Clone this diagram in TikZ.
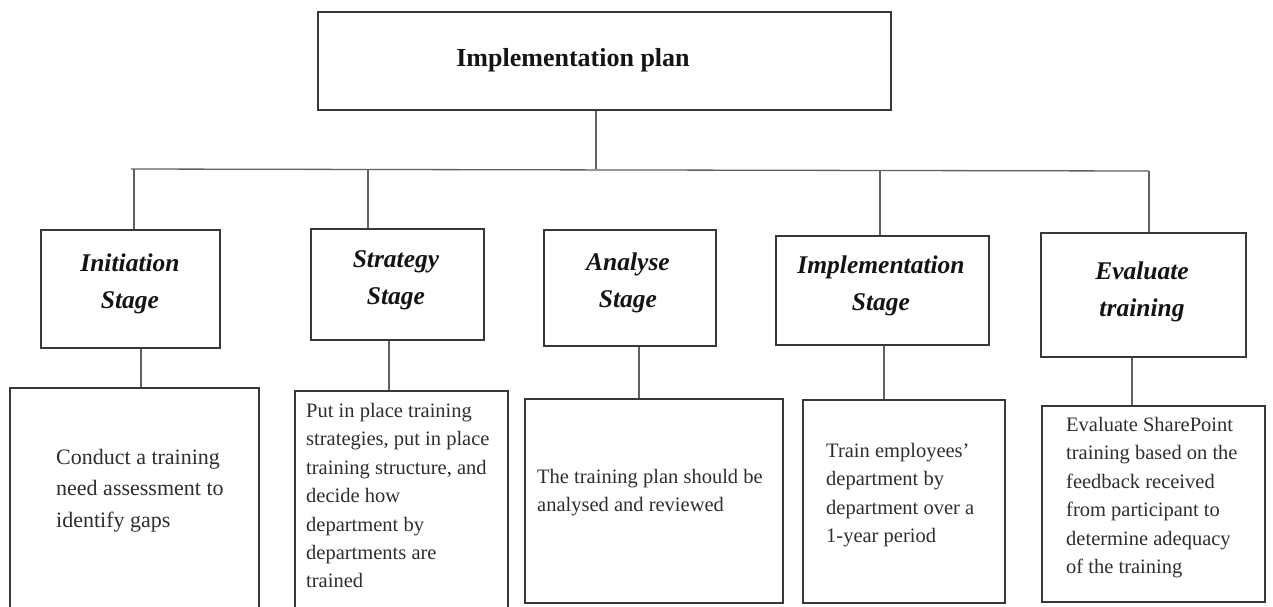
\documentclass[tikz,border=0pt]{standalone}
\usepackage{fontspec}
\setmainfont{Liberation Serif}
\begin{document}
\begin{tikzpicture}[x=1pt,y=-1pt,
  box/.style={draw=black!78,line width=1.3pt,rectangle,inner sep=0pt,fill=none},
  link/.style={draw=black!62,line width=1.3pt},
  headtext/.style={inner sep=0pt,font=\fontsize{26}{30}\selectfont\bfseries,text=black!92},
  stagetext/.style={inner sep=0pt,anchor=north,align=center,text=black!92,
    font=\fontsize{25.5}{37}\selectfont\bfseries\itshape},
  bodytext/.style={inner sep=0pt,anchor=north west,align=left,text=black!82,
    font=\fontsize{20.5}{28.4}\selectfont},
  bigbodytext/.style={bodytext,font=\fontsize{22}{31.5}\selectfont}]
\clip (0,0) rectangle (1273,606);
\fill[white] (0,0) rectangle (1273,606);

% root
\node[box,minimum width=573pt,minimum height=98pt] (top) at (604.5,61) {};
\node[headtext,anchor=base] (toptxt) at (573,66) {Implementation plan};

% stage boxes
\node[box,minimum width=179pt,minimum height=118pt] (s1) at (130.5,289) {};
\node[box,minimum width=173pt,minimum height=111pt] (s2) at (397.5,284.5) {};
\node[box,minimum width=172pt,minimum height=116pt] (s3) at (630,288) {};
\node[box,minimum width=213pt,minimum height=109pt] (s4) at (882.5,290.5) {};
\node[box,minimum width=205pt,minimum height=124pt] (s5) at (1143.5,295) {};

\node[stagetext] (s1txt) at (130,254) {Initiation\\Stage};
\node[stagetext] (s2txt) at (396,250) {Strategy\\Stage};
\node[stagetext] (s3txt) at (628,253) {Analyse\\Stage};
\node[stagetext] (s4txt) at (881,256) {Implementation\\Stage};
\node[stagetext] (s5txt) at (1142,262) {Evaluate\\training};

% task boxes
\node[box,minimum width=249pt,minimum height=232pt] (t1) at (134.5,504) {};
\node[box,minimum width=213pt,minimum height=229pt] (t2) at (401.5,505.5) {};
\node[box,minimum width=258pt,minimum height=204pt] (t3) at (654,501) {};
\node[box,minimum width=202pt,minimum height=203pt] (t4) at (904,501.5) {};
\node[box,minimum width=223pt,minimum height=196pt] (t5) at (1153.5,504) {};

\node[bigbodytext] (t1txt) at (56,449) {Conduct a training\\need assessment to\\identify gaps};
\node[bodytext] (t2txt) at (306,403) {Put in place training\\strategies, put in place\\training structure, and\\decide how\\department by\\departments are\\trained};
\node[bodytext] (t3txt) at (537,469) {The training plan should be\\analysed and reviewed};
\node[bodytext] (t4txt) at (826,443) {Train employees’\\department by\\department over a\\1-year period};
\node[bodytext] (t5txt) at (1066,417) {Evaluate SharePoint\\training based on the\\feedback received\\from participant to\\determine adequacy\\of the training};

% bus from the root
\coordinate (busL) at (131,169);
\coordinate (busR) at (1149,171);
\coordinate (root) at (596,169);
\draw[link] (busL) -- (busR);
\draw[link] (root |- top.south) -- (root);

% drops to the stages
\coordinate (d1) at (134,169);
\coordinate (d2) at (368,169);
\coordinate (d4) at (880,170);
\coordinate (d5) at (1149,171);
\draw[link] (d1) -- (d1 |- s1.north);
\draw[link] (d2) -- (d2 |- s2.north);
\draw[link] (d4) -- (d4 |- s4.north);
\draw[link] (d5) -- (d5 |- s5.north);

% stages to their tasks
\coordinate (c1) at (141,0);
\coordinate (c2) at (389,0);
\coordinate (c3) at (639,0);
\coordinate (c4) at (884,0);
\coordinate (c5) at (1132,0);
\draw[link] (c1 |- s1.south) -- (c1 |- t1.north);
\draw[link] (c2 |- s2.south) -- (c2 |- t2.north);
\draw[link] (c3 |- s3.south) -- (c3 |- t3.north);
\draw[link] (c4 |- s4.south) -- (c4 |- t4.north);
\draw[link] (c5 |- s5.south) -- (c5 |- t5.north);
\end{tikzpicture}
\end{document}
